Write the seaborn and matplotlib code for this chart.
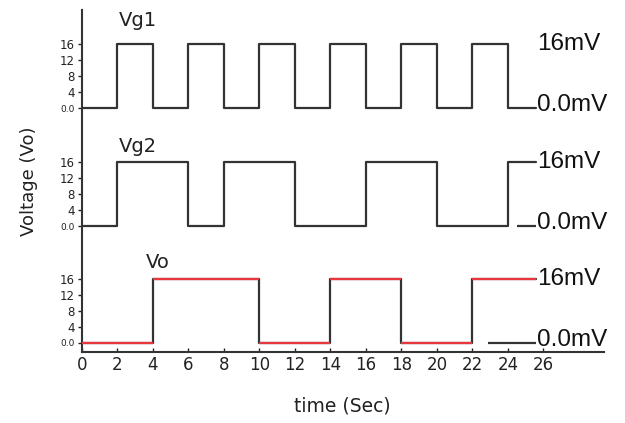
import seaborn as sns
import matplotlib.pyplot as plt
import pandas as pd

# edges of the square waves (time, level after the edge)
vg1_t = [0, 2, 4, 6, 8, 10, 12, 14, 16, 18, 20, 22, 24, 25.6]
vg1_v = [0, 16, 0, 16, 0, 16, 0, 16, 0, 16, 0, 16, 0, 0]
vg2_t = [0, 2, 6, 8, 12, 16, 20, 24, 25.6]
vg2_v = [0, 16, 0, 16, 0, 16, 0, 16, 16]
vo_t = [0, 4, 10, 14, 18, 22, 25.6]
vo_v = [0, 16, 0, 16, 0, 16, 16]

offsets = {'Vg1': 58.75, 'Vg2': 29.25, 'Vo': 0}
level_ticks = [0, 4, 8, 12, 16]
level_labels = ['0.0', '4', '8', '12', '16']
x_ticks = list(range(0, 28, 2))

sns.set_style('ticks')
plt.rcParams['font.family'] = ['DejaVu Sans']

fig = plt.figure(figsize=(6.25, 4.23), dpi=100)
ax = fig.add_axes([0.131, 0.168, 0.835, 0.808])

dark = '#333333'
red = '#e8383d'

g1 = pd.DataFrame({'t': vg1_t, 'v': [v + offsets['Vg1'] for v in vg1_v]})
g2 = pd.DataFrame({'t': vg2_t, 'v': [v + offsets['Vg2'] for v in vg2_v]})
o = pd.DataFrame({'t': vo_t, 'v': [v + offsets['Vo'] for v in vo_v]})

sns.lineplot(data=g1, x='t', y='v', ax=ax, color=dark, lw=1.6, drawstyle='steps-post',
             estimator=None, sort=False)
sns.lineplot(data=g2, x='t', y='v', ax=ax, color=dark, lw=1.6, drawstyle='steps-post',
             estimator=None, sort=False)
sns.lineplot(data=o, x='t', y='v', ax=ax, color=dark, lw=1.6, drawstyle='steps-post',
             estimator=None, sort=False)
# red horizontal parts of the output
ax.hlines(o['v'][:-1], o['t'][:-1], o['t'][1:], color=red, lw=1.6, zorder=3)

# short dashes in front of the 0.0mV labels
ax.hlines(offsets['Vg2'], 24.5, 25.6, color=dark, lw=1.6)
ax.hlines(offsets['Vo'], 22.9, 25.6, color=dark, lw=1.6)

for name in ['Vg1', 'Vg2', 'Vo']:
    base = offsets[name]
    ax.text(25.65, base + 16, '16mV', fontsize=17.5, family='Liberation Sans',
            va='center', ha='left', color='#111111')
    ax.text(25.65, base + 0.8, '0.0mV', fontsize=17.5, family='Liberation Sans',
            va='center', ha='left', color='#111111')

ax.text(2.1, offsets['Vg1'] + 22, 'Vg1', fontsize=14, va='center', color='#222222')
ax.text(2.1, offsets['Vg2'] + 19.8, 'Vg2', fontsize=14, va='center', color='#222222')
ax.text(3.6, offsets['Vo'] + 20, 'Vo', fontsize=14, va='center', color='#222222')

yt, yl = [], []
for name in ['Vg1', 'Vg2', 'Vo']:
    for t, l in zip(level_ticks, level_labels):
        yt.append(offsets[name] + t)
        yl.append(l)
ax.set_yticks(yt)
ax.set_yticklabels(yl)
for lab in ax.get_yticklabels():
    lab.set_fontsize(6.5 if lab.get_text() == '0.0' else 8.5)
ax.tick_params(axis='y', direction='out', length=3, width=1, pad=2, colors='#222222')

ax.set_xticks(x_ticks)
ax.tick_params(axis='x', direction='in', length=3, width=1, labelsize=12, pad=3,
               colors='#222222')

ax.set_xlim(0, 29.4)
ax.set_ylim(-2.25, 83.25)
sns.despine(ax=ax)
for s in ['left', 'bottom']:
    ax.spines[s].set_color('#333333')
    ax.spines[s].set_linewidth(1.5)

ax.set_xlabel('time (Sec)', fontsize=13.5, labelpad=16, color='#222222')
ax.set_ylabel('Voltage (Vo)', fontsize=13, labelpad=12, color='#222222')
ax.yaxis.set_label_coords(-0.085, 0.5)

fig.savefig('out.png', dpi=100)
